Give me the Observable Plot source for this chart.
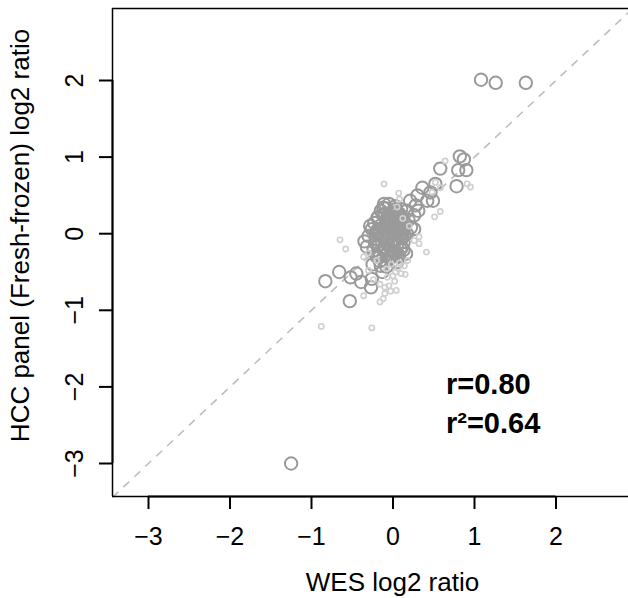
<!DOCTYPE html>
<html>
<head>
<meta charset="utf-8">
<script src="https://cdn.jsdelivr.net/npm/d3@7"></script>
<script src="https://cdn.jsdelivr.net/npm/@observablehq/plot@0.6"></script>
<style>
  html, body { margin: 0; padding: 0; background: #fff; }
  #chart svg { font-family: "Liberation Sans", Arial, Helvetica, sans-serif; }
</style>
</head>
<body>
<div id="chart"></div>
<script>
// ---- data ----
const xTicks = [-3, -2, -1, 0, 1, 2];
const yTicks = [-3, -2, -1, 0, 1, 2];
const xTitle = "WES log2 ratio";
const yTitle = "HCC panel (Fresh-frozen) log2 ratio";
const statLines = ["r=0.80", "r²=0.64"];

// larger dark-gray circles
const wesBig = [1.08, 1.26, 1.63, -1.25,
  0.82, 0.87, 0.58, 0.80, 0.90, 0.78, 0.52, 0.36, 0.46, 0.30, 0.42, 0.49, 0.21, 0.28,
  0.26, 0.13, 0.05, -0.32, -0.15, -0.13,
  -0.83, -0.66, -0.52, -0.45, -0.39, -0.26, -0.27, -0.53,
  -0.11, -0.05, 0.09, 0.17, -0.19, -0.28, -0.30, -0.21, -0.11, -0.03, -0.17, 0.17, 0.13, 0.07, -0.01, -0.07, -0.15, 0.03, 0.26, 0.31,
  -0.12, -0.08, -0.02, 0.02, 0.06, 0.10, -0.16, -0.10, -0.04, 0.00, 0.04, 0.08, 0.12, -0.20, -0.14, -0.06, 0.01, 0.05, 0.11, 0.15,
  -0.18, -0.09, -0.01, 0.03, 0.09, -0.13, -0.05, 0.02, 0.07, -0.22, -0.08, 0.00, 0.06, 0.14, -0.24, -0.12, -0.02, 0.04, 0.19, -0.07, 0.10, -0.16, 0.22, -0.35, -0.25,
  -0.23, -0.19, -0.14, -0.10, -0.06, -0.03, 0.01, 0.04, 0.08, 0.11, -0.21, -0.17, -0.09, -0.04, 0.03, 0.07, 0.13, -0.26, -0.20, -0.11, -0.01, 0.05, 0.16, -0.18, -0.06, 0.09, -0.13, 0.00, 0.12, -0.08];
const hccBig = [2.01, 1.97, 1.97, -3.00,
  1.01, 0.97, 0.85, 0.83, 0.83, 0.62, 0.65, 0.60, 0.54, 0.50, 0.43, 0.43, 0.43, 0.37,
  0.06, -0.21, -0.37, -0.17, -0.42, -0.50,
  -0.62, -0.50, -0.57, -0.52, -0.63, -0.59, -0.70, -0.88,
  0.39, 0.39, 0.24, 0.30, 0.21, 0.10, -0.03, -0.07, -0.22, -0.31, -0.31, 0.00, -0.11, 0.15, 0.04, 0.21, 0.30, 0.32, 0.24, 0.30,
  0.25, 0.18, 0.28, 0.22, 0.12, 0.20, 0.10, 0.06, 0.14, 0.08, 0.02, -0.02, 0.07, 0.02, -0.04, -0.06, -0.10, -0.14, -0.06, 0.12,
  -0.16, -0.18, -0.22, -0.26, -0.20, 0.00, 0.00, 0.16, -0.28, -0.12, -0.26, -0.35, 0.05, -0.02, -0.22, 0.34, -0.15, 0.10, 0.18, 0.12, 0.32, -0.36, 0.08, -0.10, -0.40,
  0.14, 0.05, -0.09, 0.26, -0.13, 0.17, 0.11, -0.08, 0.26, -0.18, -0.01, -0.24, 0.33, -0.32, 0.36, -0.30, 0.04, 0.06, -0.30, -0.18, -0.30, 0.28, -0.26, 0.22, 0.24, 0.10, -0.04, 0.09, 0.00, -0.43];

// smaller light-gray circles
const wesSmall = [-0.11, 0.07, 0.08, 0.58, 0.51, -0.65, -0.58, 0.41, 0.26, 0.32, 0.32,
  -0.30, -0.16, -0.07, 0.00, 0.03, 0.06, 0.10, -0.10, -0.05, -0.03, 0.04, -0.36, -0.16,
  -0.88, -0.26, 0.64, 0.91, 0.95, 0.52, 0.58, 0.48, -0.10, -0.12,
  0.20, 0.15, -0.20, 0.05, 0.12, -0.30, -0.36, -0.02, 0.08, -0.08, 0.14, -0.24, 0.18, 0.02];
const hccSmall = [0.65, 0.53, 0.45, 0.29, 0.22, -0.08, -0.20, -0.24, -0.09, -0.04, -0.13,
  -0.48, -0.66, -0.57, -0.55, -0.50, -0.45, -0.52, -0.70, -0.68, -0.75, -0.74, -0.81, -0.89,
  -1.21, -1.23, 0.95, 0.65, 0.61, 0.67, 0.60, 0.54, -0.78, -0.85,
  0.10, -0.53, -0.35, 0.35, 0.20, -0.25, -0.30, -0.40, -0.38, -0.46, -0.42, -0.60, -0.35, -0.62];

// ---- tables built from the arrays ----
const big = wesBig.map((x, i) => ({x, y: hccBig[i]}));
const small = wesSmall.map((x, i) => ({x, y: hccSmall[i]}));

const xDomain = [-3.4417, 2.8896];
const yDomain = [-3.4308, 2.94];
const diag = [{x1: -3.4417, y1: -3.4417, x2: 2.94, y2: 2.94}];
const fmt = d3.format("d");

const plot = Plot.plot({
  width: 628,
  height: 598,
  marginLeft: 112,
  marginRight: 0,
  marginTop: 8,
  marginBottom: 102,
  x: {domain: xDomain},
  y: {domain: yDomain},
  style: {fontFamily: "'Liberation Sans', Arial, Helvetica, sans-serif", background: "#fff", overflow: "visible"},
  marks: [
    Plot.link(diag, {x1: "x1", y1: "y1", x2: "x2", y2: "y2", stroke: "#bdbdbd", strokeWidth: 1.6, strokeDasharray: "8,7"}),
    Plot.dot(big, {x: "x", y: "y", r: 6.2, stroke: "#9a9a9a", strokeWidth: 2, fill: "none"}),
    Plot.dot(small, {x: "x", y: "y", r: 2.6, stroke: "#cfcfcf", strokeWidth: 1.6, fill: "none"}),
    // box (left, top, bottom)
    Plot.ruleX([xDomain[0]], {stroke: "#000", strokeWidth: 1.5}),
    Plot.ruleY([yDomain[0], yDomain[1]], {stroke: "#000", strokeWidth: 1.5}),
    // axis lines from first to last tick
    Plot.ruleY([yDomain[0]], {x1: xTicks[0], x2: xTicks[xTicks.length - 1], stroke: "#000", strokeWidth: 2}),
    Plot.ruleX([xDomain[0]], {y1: yTicks[0], y2: yTicks[yTicks.length - 1], stroke: "#000", strokeWidth: 2}),
    Plot.axisX(xTicks, {tickSize: 13, tickPadding: 18, fontSize: 25, label: null, strokeWidth: 2, color: "#000", tickFormat: fmt}),
    Plot.axisY(yTicks, {tickSize: 13, tickPadding: 17, tickRotate: -90, fontSize: 25, label: null, strokeWidth: 2, color: "#000", tickFormat: fmt}),
    Plot.text([xTitle], {frameAnchor: "bottom", dx: 22, dy: 94, lineAnchor: "bottom", fontSize: 26, fill: "#000"}),
    Plot.text([yTitle], {frameAnchor: "left", rotate: -90, textAnchor: "middle", dx: -84, dy: -17, lineAnchor: "bottom", fontSize: 26, fill: "#000"}),
    Plot.text([statLines[0]], {x: 0.65, y: -2.09, textAnchor: "start", lineAnchor: "bottom", fontSize: 29, fontWeight: "bold", fill: "#000"}),
    Plot.text([statLines[1]], {x: 0.65, y: -2.60, textAnchor: "start", lineAnchor: "bottom", fontSize: 29, fontWeight: "bold", fill: "#000"})
  ]
});
document.getElementById("chart").appendChild(plot);
</script>
</body>
</html>
